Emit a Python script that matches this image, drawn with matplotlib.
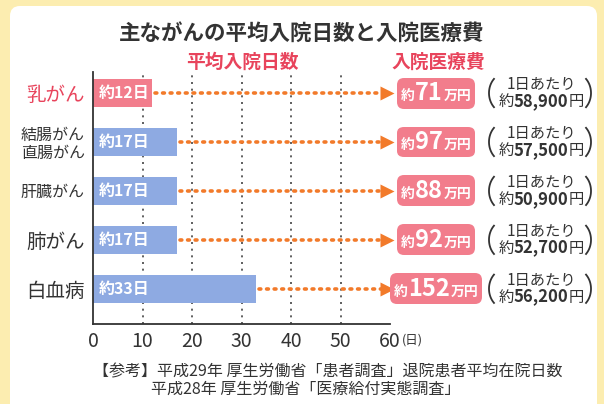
import numpy as np
import matplotlib.pyplot as plt
from matplotlib.patches import FancyBboxPatch
from matplotlib.lines import Line2D
from matplotlib.offsetbox import TextArea, HPacker, VPacker, AnnotationBbox
import matplotlib.transforms as mtransforms

plt.rcParams['font.family'] = ['Noto Sans CJK JP', 'DejaVu Sans']

# data
cancers = ["乳がん", "結腸がん\n直腸がん", "肝臓がん", "肺がん", "白血病"]
days = [12, 17, 17, 17, 33]
cost_man = ["71", "97", "88", "92", "152"]
cost_per_day = ["58,900", "57,500", "50,900", "52,700", "56,200"]
xticks = [0, 10, 20, 30, 40, 50, 60]

pink = "#f27d8c"
blue = "#8eaae2"
orange = "#f27a2a"
red_text = "#e8445c"
dark = "#333333"

W, H = 604, 404
fig = plt.figure(figsize=(W / 100, H / 100), dpi=100)
fig.patch.set_facecolor("#fcedb0")

# background axes in pixel units for the white panel
bg = fig.add_axes([0, 0, 1, 1], zorder=-5)
bg.set_xlim(0, W)
bg.set_ylim(H, 0)
bg.axis("off")
bg.add_patch(FancyBboxPatch((10, 6), 587, 420, boxstyle="round,pad=0,rounding_size=10",
                            fc="white", ec="none"))

# axes placed in pixel terms (x: 93..390 = 0..60 days)
ax_left, ax_right = 93, 390
ax_top, ax_bottom = 72, 324
ax = fig.add_axes([ax_left / W, 1 - ax_bottom / H,
                   (ax_right - ax_left) / W, (ax_bottom - ax_top) / H])
ax.set_facecolor("none")
ax.set_xlim(0, 60)
ax.set_ylim(4.72, -0.43)

ypos = list(range(len(cancers)))
colors = [pink] + [blue] * (len(cancers) - 1)

for x in xticks[1:-1]:
    ax.axvline(x, color="#444444", lw=1.2, ls=(0, (1.2, 2.8)), zorder=1)

ax.barh(ypos, days, height=0.57, color=colors, zorder=2)

for i, d in enumerate(days):
    ax.text(1.2, i, f"約{d}日", color="white", fontsize=11.5, fontweight="bold",
            va="center", ha="left", zorder=4)
    ax.plot([d + 0.5, 58.2], [i, i], color=orange, lw=2.6,
            ls=(0, (0.5, 1.6)), dash_capstyle="round", clip_on=False, zorder=3)
    ax.plot(59.3, i, marker=">", ms=10, color=orange, mec="none",
            clip_on=False, zorder=3)

ax.set_xticks(xticks)
ax.set_xticklabels([str(x) for x in xticks], fontsize=14, color=dark)
ax.tick_params(axis="x", length=0, pad=5)
ax.set_yticks(ypos)
ax.set_yticklabels(cancers, color=dark, linespacing=1.1)
for lab, name in zip(ax.get_yticklabels(), cancers):
    lab.set_fontsize(11.5 if len(name) > 3 else 14)
ax.get_yticklabels()[0].set_color(red_text)
ax.tick_params(axis="y", length=0, pad=6)
for s in ["top", "right"]:
    ax.spines[s].set_visible(False)
for s in ["left", "bottom"]:
    ax.spines[s].set_color(dark)
    ax.spines[s].set_linewidth(1.3)

# (日) unit after 60
ax.text(62.3, -0.065, "(日)",
        transform=mtransforms.blended_transform_factory(ax.transData, ax.transAxes),
        fontsize=9, color=dark, va="center", ha="left")

# x in figure fraction, y in data
mixed = mtransforms.blended_transform_factory(fig.transFigure, ax.transData)
row_px = (ax_bottom - ax_top) / (4.72 + 0.43)  # pixels per category step

# parenthesis shape (an elliptic arc), px offsets
t = np.linspace(np.radians(135), np.radians(225), 30)
paren_dx = 17 * np.cos(t)
paren_dy = 20 * np.sin(t)

for i in ypos:
    parts = HPacker(children=[
        TextArea("約", textprops=dict(color="white", fontsize=10, fontweight="bold")),
        TextArea(cost_man[i], textprops=dict(color="white", fontsize=17, fontweight="bold")),
        TextArea("万円", textprops=dict(color="white", fontsize=10, fontweight="bold")),
    ], align="baseline", pad=0, sep=0.5)
    ab = AnnotationBbox(parts, (436 / W, i), xycoords=mixed,
                        frameon=True, pad=0.25, box_alignment=(0.5, 0.5),
                        bboxprops=dict(boxstyle="round,pad=0.25,rounding_size=0.5",
                                       fc=pink, ec="none"),
                        annotation_clip=False, zorder=4)
    fig.add_artist(ab)

    line1 = TextArea("1日あたり", textprops=dict(color=dark, fontsize=11))
    line2 = HPacker(children=[
        TextArea("約", textprops=dict(color=dark, fontsize=11)),
        TextArea(cost_per_day[i], textprops=dict(color=dark, fontsize=12, fontweight="bold")),
        TextArea("円", textprops=dict(color=dark, fontsize=11)),
    ], align="baseline", pad=0, sep=0)
    stack = VPacker(children=[line1, line2], align="center", pad=0, sep=-1)
    ab2 = AnnotationBbox(stack, (541 / W, i), xycoords=mixed,
                         frameon=False, box_alignment=(0.5, 0.5),
                         annotation_clip=False, zorder=4)
    fig.add_artist(ab2)

    # thin parentheses
    for cx, sign in [(506, 1), (574, -1)]:
        fig.add_artist(Line2D((cx + sign * paren_dx) / W, i + paren_dy / row_px,
                              transform=mixed, color=dark, lw=1.3))

# titles
fig.text(302 / W, 1 - 33 / H, "主ながんの平均入院日数と入院医療費", fontsize=15.5,
         fontweight="bold", color=dark, ha="center", va="center")
fig.text(242 / W, 1 - 62 / H, "平均入院日数", fontsize=13.5, fontweight="bold",
         color=red_text, ha="center", va="center")
fig.text(438 / W, 1 - 62 / H, "入院医療費", fontsize=13.5, fontweight="bold",
         color=red_text, ha="center", va="center")

# source note
fig.text(93 / W, 1 - 372 / H, "【参考】平成29年 厚生労働省「患者調査」退院患者平均在院日数",
         fontsize=11.5, color=dark, ha="left", va="center")
fig.text(151 / W, 1 - 389 / H, "平成28年 厚生労働省「医療給付実態調査」",
         fontsize=11.5, color=dark, ha="left", va="center")

fig.savefig("out.png", dpi=100, facecolor=fig.get_facecolor())
